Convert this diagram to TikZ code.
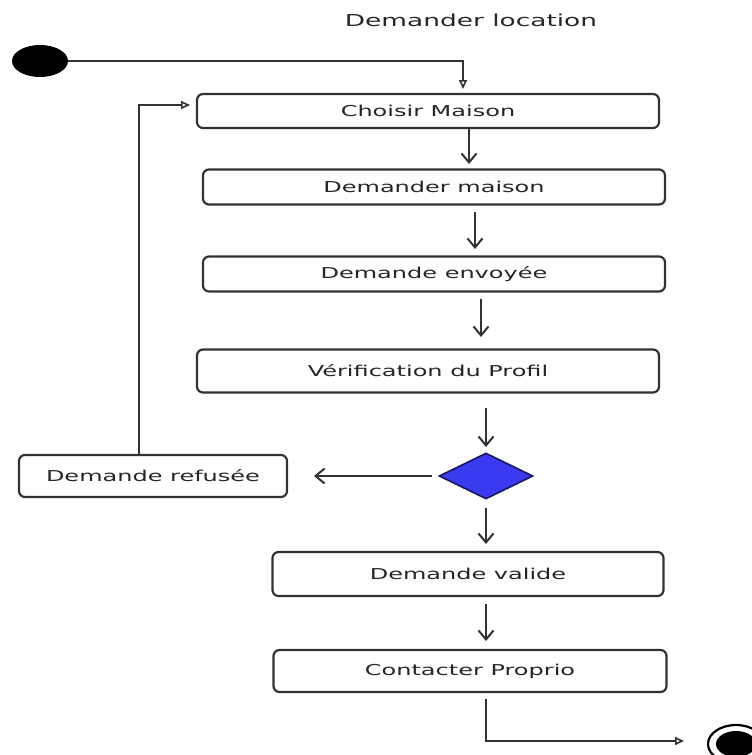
\documentclass[tikz,border=0pt]{standalone}
\usepackage{fontspec}
\setmainfont{DejaVu Sans}
\usetikzlibrary{arrows.meta,shapes.geometric}
\definecolor{ink}{RGB}{38,38,38}
\definecolor{edge}{RGB}{50,50,50}
\definecolor{decfill}{RGB}{58,58,240}
\definecolor{decline}{RGB}{25,25,90}
% wide sans lettering used for every label
\newcommand{\widelabel}[1]{\scalebox{1.6}[1]{#1}}
\tikzset{
  actbox/.style={draw=edge, line width=2.2pt, rounded corners=6pt, fill=white,
    inner sep=0pt, text=ink, font=\fontsize{15}{18}\selectfont},
  stickarrow/.style={draw=edge, line width=2.2pt, -{Straight Barb[length=9pt,width=15pt,line width=2pt]}},
  openarrow/.style={draw=edge, line width=2.2pt, -{Triangle[open,length=9pt,width=8pt,line width=1.6pt]}},
}
\begin{document}
\begin{tikzpicture}[x=1pt,y=-1pt]
\useasboundingbox (0,0) rectangle (752,755);
\clip (0,0) rectangle (752,755);

% title
\node[text=ink, font=\fontsize{16.5}{20}\selectfont] (title) at (471,20) {\widelabel{Demander location}};

% initial state
\node[ellipse, fill=black, minimum width=56pt, minimum height=32pt, inner sep=0pt] (start) at (40,61) {};

% activities
\node[actbox, minimum width=462pt, minimum height=34pt] (choisir) at (428,111) {\widelabel{Choisir Maison}};
\node[actbox, minimum width=462pt, minimum height=35pt] (maison) at (434,187) {\widelabel{Demander maison}};
\node[actbox, minimum width=462pt, minimum height=35pt] (envoyee) at (434,274) {\widelabel{Demande envoyée}};
\node[actbox, minimum width=462pt, minimum height=43pt] (verif) at (428,371) {\widelabel{Vérification du Profil}};
\node[diamond, fill=decfill, draw=decline, line width=1.6pt, minimum width=94pt, minimum height=46pt, inner sep=0pt] (dec) at (486,476) {};
\node[actbox, minimum width=268pt, minimum height=42pt] (refusee) at (153,476) {\widelabel{Demande refusée}};
\node[actbox, minimum width=391pt, minimum height=44pt] (valide) at (468,574) {\widelabel{Demande valide}};
\node[actbox, minimum width=393pt, minimum height=42pt] (contact) at (470,671) {\widelabel{Contacter Proprio}};

% final state
\node[ellipse, draw=black, line width=2.2pt, fill=white, minimum width=56pt, minimum height=38pt, inner sep=0pt] (stop) at (736,744) {};
\node[ellipse, fill=black, minimum width=40pt, minimum height=26pt, inner sep=0pt] (stopcore) at (stop.center) {};

% connector end points
\coordinate (inTip) at (463,89);
\coordinate (a1) at (469,164);
\coordinate (a2) at (475,249);
\coordinate (a3) at (481,337);
\coordinate (a4) at (486,447);
\coordinate (refTip) at (314,476);
\coordinate (loopCorner) at (139,105);
\coordinate (loopTip) at (190,105);
\coordinate (a5) at (486,544);
\coordinate (a6) at (486,641);
\coordinate (outCorner) at (486,741);
\coordinate (outTip) at (684,741);

% transitions
\draw[openarrow] (start.east) -| (inTip);
\draw[stickarrow] (choisir.south -| a1) -- (a1);
\draw[stickarrow] ([yshift=-6pt]maison.south -| a2) -- (a2);
\draw[stickarrow] ([yshift=-6pt]envoyee.south -| a3) -- (a3);
\draw[stickarrow] ([yshift=-14pt]verif.south -| a4) -- (a4);
\draw[stickarrow] ([xshift=-6pt]dec.west) -- (refTip);
\draw[openarrow] (refusee.north -| loopCorner) -- (loopCorner) -- (loopTip);
\draw[stickarrow] ([yshift=-8pt]dec.south) -- (a5);
\draw[stickarrow] ([yshift=-7pt]valide.south -| a6) -- (a6);
\draw[openarrow] ([yshift=-6pt]contact.south -| outCorner) -- (outCorner) -- (outTip);
\end{tikzpicture}
\end{document}
